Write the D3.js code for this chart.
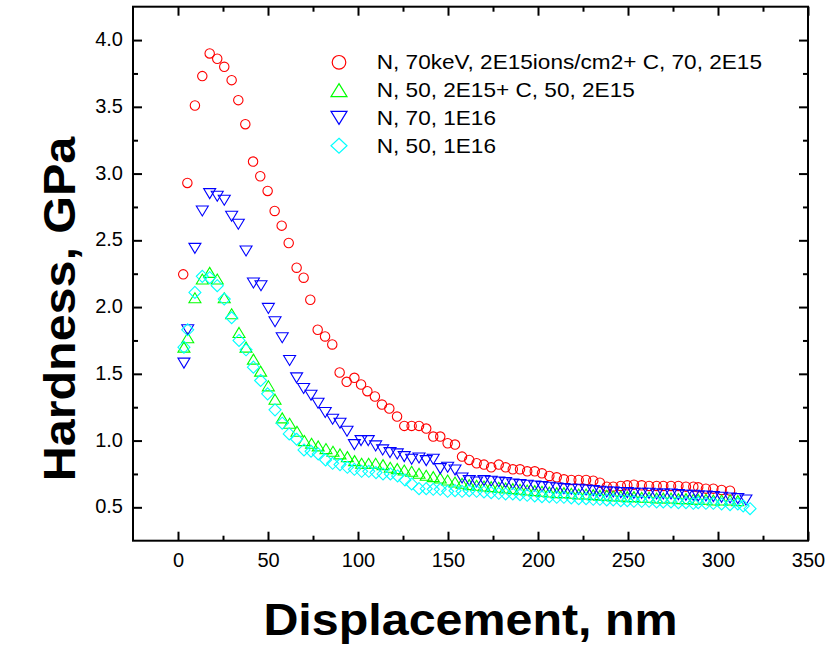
<!DOCTYPE html>
<html><head><meta charset="utf-8">
<script src="https://cdn.jsdelivr.net/npm/d3@7"></script>
<style>html,body{margin:0;padding:0;background:#fff;}svg{display:block;}</style>
</head><body>
<svg id="chart" width="833" height="650"></svg>
<script>
// ---- data ----
const seriesNames = [
  "N, 70keV, 2E15ions/cm2+ C, 70, 2E15",
  "N, 50, 2E15+ C, 50, 2E15",
  "N, 70, 1E16",
  "N, 50, 1E16"
];
const xTickValues = [0, 50, 100, 150, 200, 250, 300, 350];
const yTickValues = [0.5, 1.0, 1.5, 2.0, 2.5, 3.0, 3.5, 4.0];
const xTitle = "Displacement, nm";
const yTitle = "Hardness, GPa";

const redPoints = [
  [2.9,2.245],[5.2,2.93],[9.4,3.51],[13.5,3.73],[17.6,3.90],[21.8,3.86],[25.7,3.80],[29.8,3.70],
  [33.5,3.55],[37.4,3.37],[41.7,3.09],[45.7,2.98],[49.8,2.87],[53.7,2.72],[57.6,2.61],[61.5,2.48],
  [65.9,2.295],[69.8,2.22],[73.5,2.055],[77.6,1.83],[81.7,1.78],[85.7,1.72],[89.8,1.51],[93.7,1.44],
  [98,1.47],[101.7,1.42],[105.2,1.37],[109.4,1.33],[113.3,1.27],[117.4,1.24],[121.7,1.18],[125.7,1.11],
  [129.8,1.11],[133.9,1.11],[137.9,1.09],[141.8,1.03],[145.7,1.03],[149.8,0.98],[153.9,0.97],[157.8,0.88],
  [161.8,0.855],[165.9,0.83],[170,0.82],[174,0.80],[178.2,0.82],[182,0.80],[186,0.785],[190,0.785],
  [194,0.77],[198.2,0.77],[202.2,0.755],[206.3,0.735],[210.4,0.725],[214.4,0.71],[218.5,0.705],[222.6,0.705],
  [226.7,0.705],[230.7,0.70],[234.4,0.685],[238.2,0.655],[241.8,0.655],[246,0.66],[249.6,0.665],[253.3,0.67],
  [257.6,0.665],[261.7,0.66],[265.9,0.66],[269.6,0.66],[273.9,0.66],[278,0.66],[282.2,0.655],[286.3,0.655],
  [289,0.65],[293.3,0.64],[297.4,0.64],[302,0.63],[306.7,0.625]
];
const greenPoints = [
  [3.3,1.70],[5.4,1.77],[9.4,2.07],[13.5,2.21],[17.6,2.26],[21.8,2.21],[25.7,2.07],[29.8,1.95],
  [33.9,1.81],[37.8,1.70],[41.9,1.61],[45.9,1.52],[50.2,1.41],[53.9,1.31],[57.9,1.17],[62,1.13],
  [66.1,1.07],[70.2,1.00],[74.2,0.98],[77.9,0.96],[82.2,0.94],[86.1,0.92],[90,0.90],[94.1,0.88],
  [98.1,0.85],[102,0.83],[105.9,0.83],[109.8,0.83],[113.9,0.82],[117.9,0.80],[121.8,0.79],[125.7,0.78],
  [129.8,0.77],[133.9,0.755],[137.9,0.74],[141.8,0.73],[145.7,0.72],[149.8,0.705],[153.9,0.69],[157.8,0.68],
  [161.8,0.67],[165.9,0.665],[170,0.66],[174,0.655],[178.2,0.65],[182,0.645],[186,0.64],[190,0.635],
  [194,0.63],[198.2,0.625],[202.2,0.62],[206.3,0.615],[210.4,0.61],[214.4,0.61],[218.5,0.605],[222.6,0.60],
  [226.7,0.60],[230.7,0.595],[234.4,0.59],[238.2,0.59],[241.8,0.585],[246,0.585],[249.6,0.58],[253.3,0.58],
  [257.6,0.575],[261.7,0.575],[265.9,0.57],[269.6,0.57],[273.9,0.57],[278,0.565],[282.2,0.565],[286.3,0.56],
  [289,0.56],[293.3,0.56],[297.4,0.555],[302,0.555],[306.7,0.555],[311,0.55]
];
const bluePoints = [
  [3.3,1.58],[5.4,1.83],[9.4,2.44],[13.5,2.72],[17.6,2.85],[21.8,2.83],[25.7,2.80],[29.8,2.68],
  [33.5,2.62],[37.8,2.42],[41.9,2.18],[46.1,2.16],[50.2,1.99],[53.9,1.89],[57.9,1.77],[62,1.60],
  [65.9,1.47],[69.8,1.39],[73.9,1.34],[77.8,1.28],[81.8,1.21],[85.9,1.16],[90,1.13],[93.9,1.07],
  [98,0.97],[101.7,1.00],[105.7,1.00],[109.8,0.96],[113.7,0.93],[117.8,0.91],[121.8,0.90],[125.7,0.88],
  [129.8,0.86],[133.9,0.87],[137.9,0.85],[141.8,0.86],[145.7,0.79],[149.8,0.80],[153.9,0.78],[157.8,0.72],
  [161.8,0.70],[165.9,0.69],[170,0.70],[174,0.695],[178.2,0.69],[182,0.685],[186,0.675],[190,0.67],
  [194,0.665],[198.2,0.66],[202.2,0.655],[206.3,0.65],[210.4,0.645],[214.4,0.64],[218.5,0.635],[222.6,0.635],
  [226.7,0.63],[230.7,0.625],[234.4,0.62],[238.2,0.615],[241.8,0.615],[246,0.61],[249.6,0.61],[253.3,0.605],
  [257.6,0.605],[261.7,0.605],[265.9,0.60],[269.6,0.60],[273.9,0.60],[278,0.595],[282.2,0.59],[286.3,0.59],
  [289,0.585],[293.3,0.585],[297.4,0.58],[302,0.575],[306.7,0.57],[311,0.565],[315.5,0.555]
];
const cyanPoints = [
  [3.3,1.70],[5.4,1.83],[9.4,2.11],[13.5,2.23],[17.6,2.22],[21.8,2.16],[25.7,2.06],[29.8,1.92],
  [33.9,1.75],[37.8,1.68],[41.9,1.55],[45.9,1.45],[49.8,1.35],[53.9,1.23],[57.9,1.13],[61.8,1.05],
  [65.9,1.01],[70,0.93],[73.9,0.92],[77.9,0.90],[82,0.855],[85.9,0.83],[90,0.82],[94.1,0.80],
  [98,0.785],[102,0.77],[106,0.77],[110,0.76],[113.9,0.75],[118,0.75],[122,0.735],[126.1,0.705],
  [129.8,0.675],[133.9,0.64],[137.9,0.64],[141.8,0.635],[145.7,0.635],[149.8,0.62],[153.9,0.625],[157.8,0.62],
  [161.8,0.625],[165.9,0.62],[170,0.615],[174,0.61],[178.2,0.605],[182,0.60],[186,0.60],[190,0.595],
  [194,0.59],[198.2,0.585],[202.2,0.58],[206.3,0.58],[210.4,0.575],[214.4,0.575],[218.5,0.57],[222.6,0.565],
  [226.7,0.565],[230.7,0.56],[234.4,0.56],[238.2,0.555],[241.8,0.555],[246,0.55],[249.6,0.55],[253.3,0.545],
  [257.6,0.545],[261.7,0.545],[265.9,0.54],[269.6,0.54],[273.9,0.54],[278,0.535],[282.2,0.535],[286.3,0.53],
  [289,0.535],[293.3,0.53],[297.4,0.53],[302,0.525],[306.7,0.52],[311,0.525],[314,0.51],[317.8,0.49]
];

// ---- layout ----
const svg = d3.select("#chart");
const L = 133, R = 808, T = 6.7, B = 540.7;
const x = d3.scaleLinear().domain([-25, 350]).range([L, R]);
const y = d3.scaleLinear().domain([0.25, 4.25]).range([B, T]);
const FONT = "'Liberation Sans', Arial, Helvetica, sans-serif";

// custom symbols
const circleT = r => ({draw(c){ c.moveTo(r,0); c.arc(0,0,r,0,2*Math.PI); c.closePath(); }});
const triUpT = (w,h) => ({draw(c){ c.moveTo(0,-h/2); c.lineTo(w/2,h/2); c.lineTo(-w/2,h/2); c.closePath(); }});
const triDownT = (w,h) => ({draw(c){ c.moveTo(0,h/2); c.lineTo(w/2,-h/2); c.lineTo(-w/2,-h/2); c.closePath(); }});
const diamondT = (w,h) => ({draw(c){ c.moveTo(0,-h/2); c.lineTo(w/2,0); c.lineTo(0,h/2); c.lineTo(-w/2,0); c.closePath(); }});

const series = [
  {data: redPoints,   color: "#ff0000", sym: circleT(4.7),     leg: circleT(6.8)},
  {data: greenPoints, color: "#00ff00", sym: triUpT(12,10),    leg: triUpT(16,13)},
  {data: bluePoints,  color: "#0000ff", sym: triDownT(12,10),  leg: triDownT(16,13)},
  {data: cyanPoints,  color: "#00ffff", sym: diamondT(12,12),  leg: diamondT(16,15)}
];

// axes (ticks inward)
const xMinor = d3.range(25, 350, 50);
const yMinor = d3.range(0.75, 4.25, 0.5);

const gB = svg.append("g").attr("transform", `translate(0,${B})`)
  .call(d3.axisBottom(x).tickValues(xTickValues).tickSize(-9).tickPadding(12).tickFormat(d3.format("d")));
const gBm = svg.append("g").attr("transform", `translate(0,${B})`)
  .call(d3.axisBottom(x).tickValues(xMinor).tickSize(-5).tickFormat(""));
const gT = svg.append("g").attr("transform", `translate(0,${T})`)
  .call(d3.axisTop(x).tickValues(xTickValues).tickSize(-9).tickFormat(""));
const gTm = svg.append("g").attr("transform", `translate(0,${T})`)
  .call(d3.axisTop(x).tickValues(xMinor).tickSize(-5).tickFormat(""));
const gL = svg.append("g").attr("transform", `translate(${L},0)`)
  .call(d3.axisLeft(y).tickValues(yTickValues).tickSize(-9).tickPadding(10).tickFormat(d3.format(".1f")));
const gLm = svg.append("g").attr("transform", `translate(${L},0)`)
  .call(d3.axisLeft(y).tickValues(yMinor).tickSize(-5).tickFormat(""));
const gR = svg.append("g").attr("transform", `translate(${R},0)`)
  .call(d3.axisRight(y).tickValues(yTickValues).tickSize(-9).tickFormat(""));
const gRm = svg.append("g").attr("transform", `translate(${R},0)`)
  .call(d3.axisRight(y).tickValues(yMinor).tickSize(-5).tickFormat(""));

[gB,gBm,gT,gTm,gL,gLm,gR,gRm].forEach(g => {
  g.select(".domain").remove();
  g.selectAll(".tick line").attr("stroke", "#000").attr("stroke-width", 2);
  g.selectAll(".tick text").attr("font-family", FONT).attr("font-size", 20).attr("fill", "#000");
});
gB.selectAll(".tick text").attr("dy", "0.71em");
gL.selectAll(".tick text").attr("dy", "0.28em");

// frame
svg.append("rect").attr("x", L).attr("y", T).attr("width", R - L).attr("height", B - T)
  .attr("fill", "none").attr("stroke", "#000").attr("stroke-width", 2);

// data markers
series.forEach(s => {
  const path = d3.symbol().type(s.sym)();
  svg.append("g").selectAll("path").data(s.data).join("path")
    .attr("d", path)
    .attr("transform", d => `translate(${x(d[0])},${y(d[1])})`)
    .attr("fill", "none").attr("stroke", s.color).attr("stroke-width", 1.1);
});

// legend
const legG = svg.append("g");
series.forEach((s, i) => {
  const cy = 62.3 + i * 27.8;
  legG.append("path").attr("d", d3.symbol().type(s.leg)())
    .attr("transform", `translate(339,${cy})`)
    .attr("fill", "none").attr("stroke", s.color).attr("stroke-width", 1.2);
  legG.append("text").attr("transform", `translate(376.7,${cy + 7}) scale(1.13,1)`)
    .attr("font-family", FONT).attr("font-size", 20).attr("fill", "#000")
    .text(seriesNames[i]);
});

// axis titles
svg.append("text").attr("transform", `translate(${(L + R) / 2},635) scale(1.1,1)`)
  .attr("text-anchor", "middle").attr("font-family", FONT).attr("font-weight", "bold")
  .attr("font-size", 44).attr("fill", "#000").text(xTitle);
svg.append("text").attr("transform", `translate(75,309) rotate(-90) scale(1.1,1)`)
  .attr("text-anchor", "middle").attr("font-family", FONT).attr("font-weight", "bold")
  .attr("font-size", 44).attr("fill", "#000").text(yTitle);
</script>
</body></html>
